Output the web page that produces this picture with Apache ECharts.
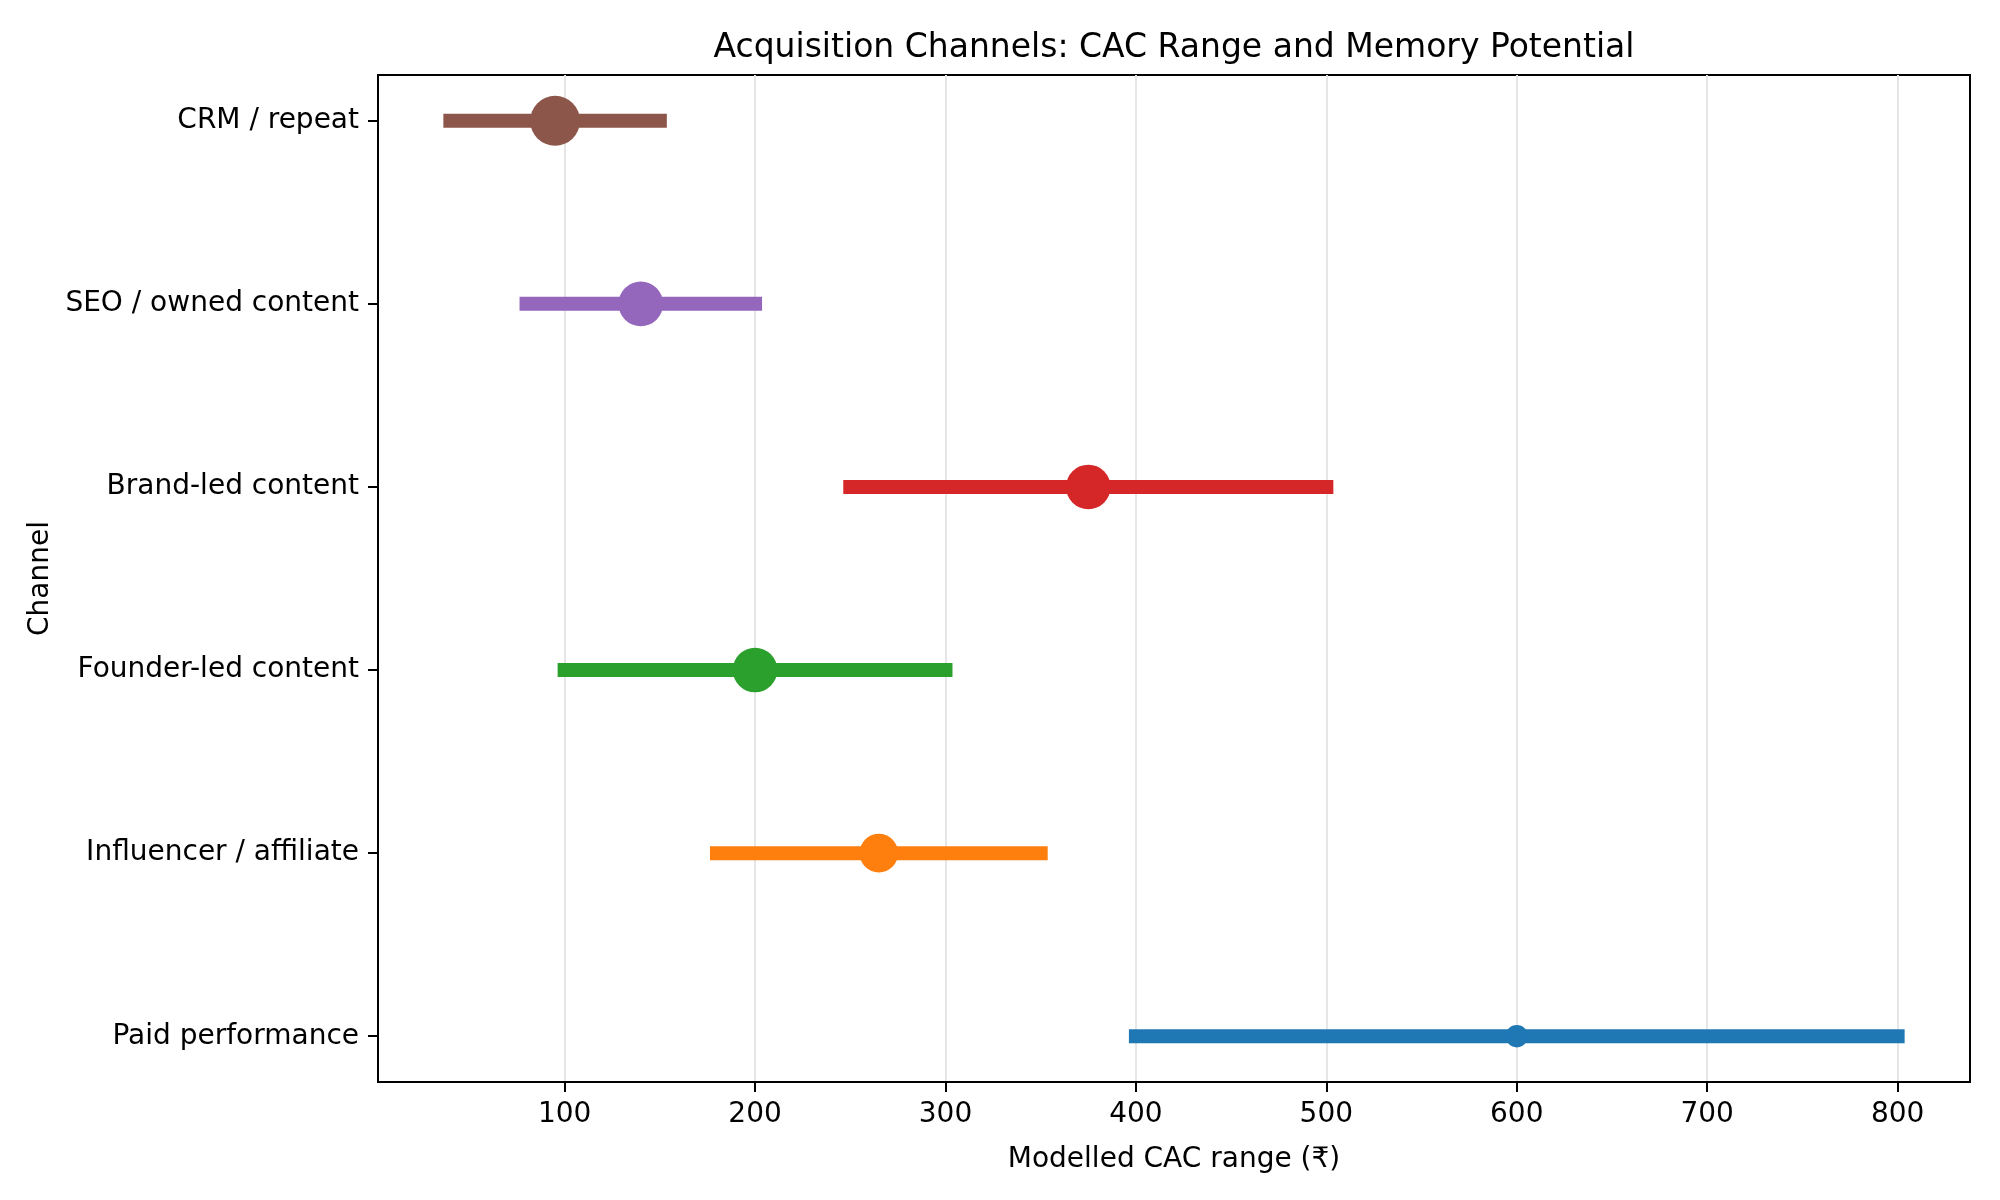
<!DOCTYPE html>
<html>
<head>
<meta charset="utf-8">
<title>Acquisition Channels</title>
<script src="https://cdn.jsdelivr.net/npm/echarts@6/dist/echarts.min.js"></script>
<style>
  body { margin: 0; background: #fff; }
  #chart { width: 2000px; height: 1200px; }
</style>
</head>
<body>
<div id="chart"></div>
<script>
// channels, bottom to top
var channels = ["Paid performance", "Influencer / affiliate", "Founder-led content",
    "Brand-led content", "SEO / owned content", "CRM / repeat"];
var cacLow  = [400, 180, 100, 250, 80, 40];
var cacHigh = [800, 350, 300, 500, 200, 150];
var cacMid  = [600, 265, 200, 375, 140, 95];
var memory  = [1, 3, 4, 4, 4, 5];
var colors  = ["#1f77b4", "#ff7f0e", "#2ca02c", "#d62728", "#9467bd", "#8c564b"];
var xTicks  = [100, 200, 300, 400, 500, 600, 700, 800];
var yTicks  = [0, 1, 2, 3, 4, 5];

var font = "DejaVu Sans";
var chart = echarts.init(document.getElementById("chart"));

var series = [];
for (var i = 0; i < channels.length; i++) {
    series.push({
        type: "line",
        data: [[cacLow[i], i], [cacHigh[i], i]],
        showSymbol: false,
        silent: true,
        z: 2,
        lineStyle: { color: colors[i], width: 14, cap: "square" }
    });
}
var pts = [];
for (var j = 0; j < channels.length; j++) {
    pts.push({ value: [cacMid[j], j, memory[j]], itemStyle: { color: colors[j], opacity: 1 } });
}
series.push({
    type: "scatter",
    data: pts,
    z: 3,
    symbol: "circle",
    itemStyle: { opacity: 1 },
    symbolSize: function (v) { return 22.3 * Math.sqrt(v[2]); }
});

var option = {
    animation: false,
    backgroundColor: "#fff",
    textStyle: { fontFamily: font },
    graphic: [{
        type: "text",
        x: 1174, y: 48,
        style: {
            text: "Acquisition Channels: CAC Range and Memory Potential",
            font: "33px 'DejaVu Sans'",
            fill: "#000",
            align: "center",
            verticalAlign: "middle"
        }
    }],
    grid: {
        left: 378, right: 30, top: 75, bottom: 118,
        show: true, borderColor: "#000", borderWidth: 2,
        containLabel: false
    },
    xAxis: {
        type: "value",
        min: 2, max: 838,
        name: "Modelled CAC range (₹)",
        nameLocation: "middle",
        nameGap: 64,
        nameTextStyle: { fontSize: 28, color: "#000", fontFamily: font },
        axisLine: { show: true, onZero: false, lineStyle: { color: "#000", width: 2 } },
        axisTick: { show: true, length: 10, lineStyle: { color: "#000", width: 2 }, customValues: xTicks },
        axisLabel: { fontSize: 28, color: "#000", margin: 19, customValues: xTicks },
        splitLine: { show: true, lineStyle: { color: "#e6e6e6", width: 2 } }
    },
    yAxis: {
        type: "value",
        min: -0.25, max: 5.25,
        name: "Channel",
        nameLocation: "middle",
        nameGap: 322,
        nameTextStyle: { fontSize: 28, color: "#000", fontFamily: font },
        axisLine: { show: true, onZero: false, lineStyle: { color: "#000", width: 2 } },
        axisTick: { show: true, length: 10, lineStyle: { color: "#000", width: 2 }, customValues: yTicks },
        axisLabel: {
            fontSize: 28, color: "#000", margin: 19, customValues: yTicks,
            formatter: function (v) { return channels[Math.round(v)] || ""; }
        },
        splitLine: { show: false }
    },
    series: series
};
chart.setOption(option);
</script>
</body>
</html>
